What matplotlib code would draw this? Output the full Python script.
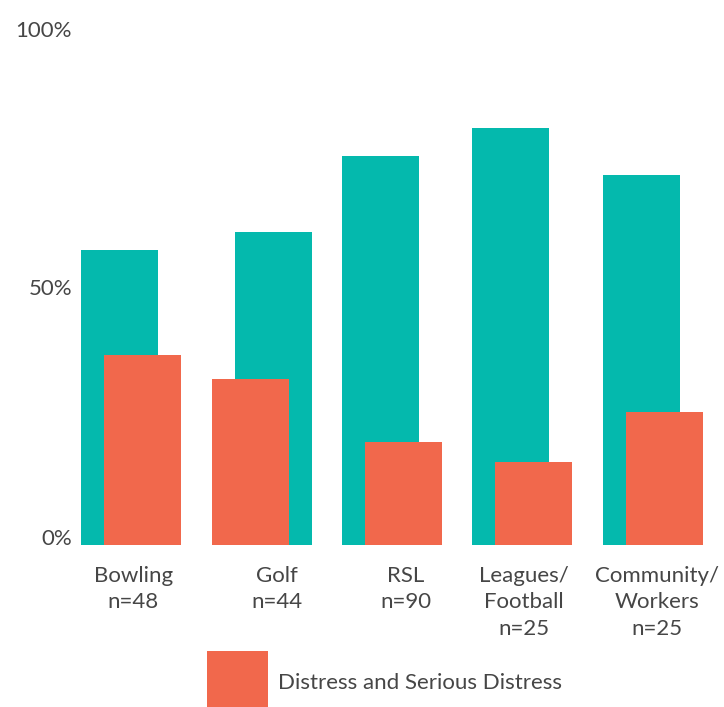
import matplotlib
matplotlib.use("Agg")
import matplotlib.pyplot as plt
import matplotlib.transforms as mtransforms
from matplotlib.patches import Rectangle
import numpy as np

# data
groups = ["Bowling\nn=48", "Golf\nn=44", "RSL\nn=90", "Leagues/\nFootball\nn=25", "Community/\nWorkers\nn=25"]
all_members = [57.2, 60.7, 75.4, 80.8, 71.7]
distress = [36.8, 32.2, 20.0, 16.1, 25.8]
y_ticks = [0, 50, 100]
y_tick_labels = ["0%", "50%", "100%"]
legend_label = "Distress and Serious Distress"

TEAL = "#04B9AD"
SALMON = "#F1684C"
TEXT = "#464646"

plt.rcParams["font.family"] = ["Lato", "DejaVu Sans"]

fig = plt.figure(figsize=(7.24, 7.07), dpi=100)
W, H = 724, 707
ax = fig.add_axes([66.25 / W, (H - 545) / H, 651.5 / W, 516 / H])

x = np.arange(len(groups))
w = 77 / 130.3
off = 23 / 130.3
swap = [False, True, False, False, False]  # golf has the orange bar on the left
teal_x = [xi + (off / 2 if s else -off / 2) for xi, s in zip(x, swap)]
sal_x = [xi + (-off / 2 if s else off / 2) for xi, s in zip(x, swap)]

ax.bar(teal_x, all_members, width=w, color=TEAL, zorder=1)
ax.bar(sal_x, distress, width=w, color=SALMON, zorder=2, label=legend_label)

ax.set_xlim(-0.5, 4.5)
ax.set_ylim(0, 100)
for s in ax.spines.values():
    s.set_visible(False)

ax.set_yticks(y_ticks)
ax.set_yticklabels(y_tick_labels, fontsize=16, color=TEXT)
ax.tick_params(axis="y", length=0, pad=-4.2)
# nudge the 0% label up a little
lbl0 = ax.get_yticklabels()[0]
lbl0.set_transform(lbl0.get_transform() + mtransforms.ScaledTranslation(0, 8 / 100, fig.dpi_scale_trans))

ax.set_xticks(x)
ax.set_xticklabels(groups, fontsize=16, color=TEXT, linespacing=1.4)
ax.tick_params(axis="x", length=0, pad=15)
label_shift = [2, 15, 14, 2, 4]
for lbl, dx in zip(ax.get_xticklabels(), label_shift):
    lbl.set_transform(lbl.get_transform() + mtransforms.ScaledTranslation(dx / 100, 0, fig.dpi_scale_trans))

# legend: big square swatch + label
fig.patches.append(Rectangle((207 / W, 0), 61 / W, 56 / H, transform=fig.transFigure,
                             facecolor=SALMON, edgecolor="none"))
fig.text(278 / W, 1 - 683 / H, legend_label, fontsize=16, color=TEXT, va="center", ha="left")

plt.savefig("out.png", dpi=100)
